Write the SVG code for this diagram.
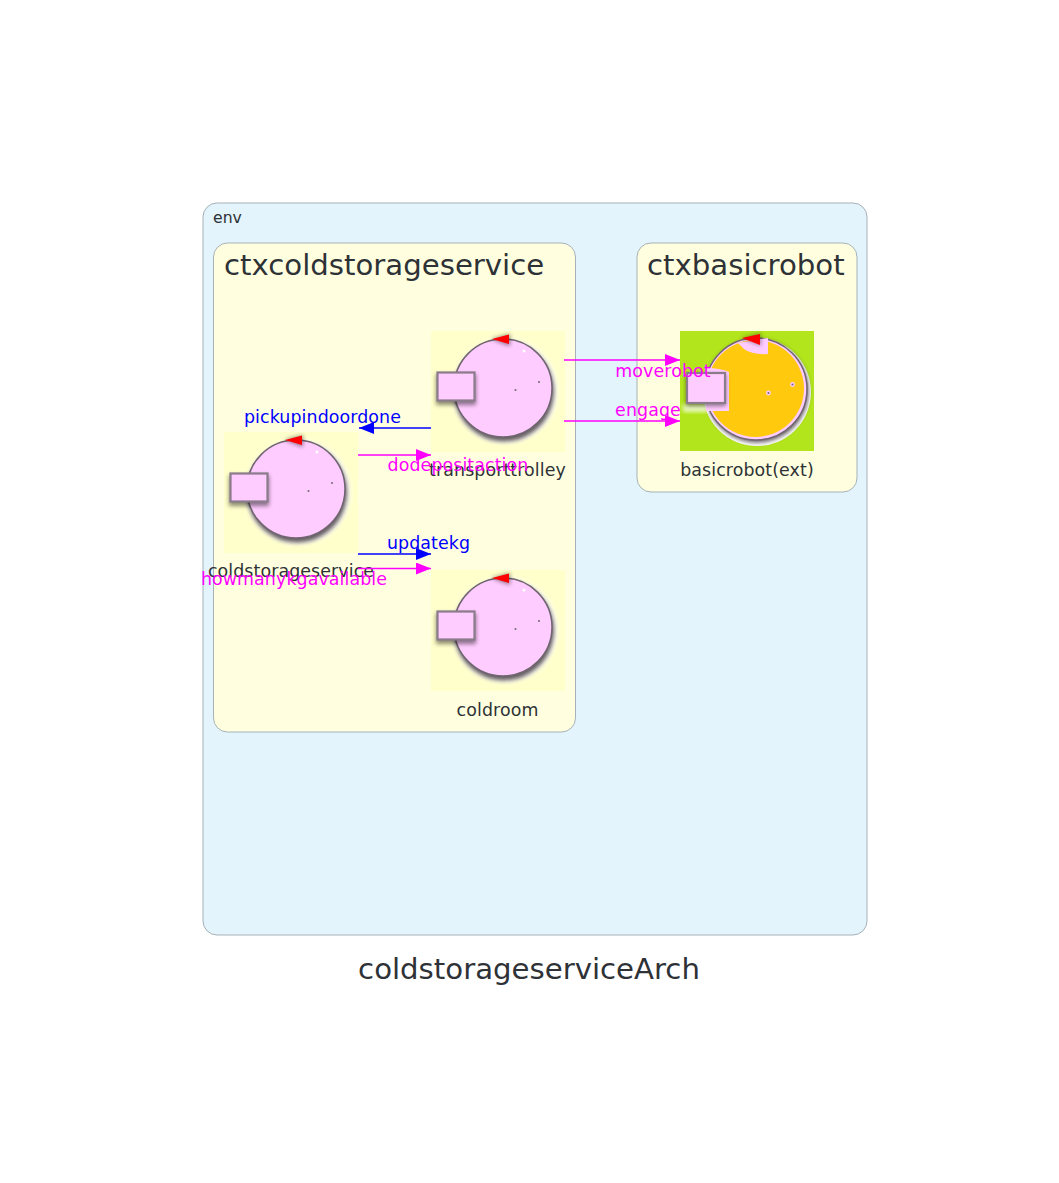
<svg xmlns="http://www.w3.org/2000/svg" xmlns:xlink="http://www.w3.org/1999/xlink" width="1059" height="1183" viewBox="0 0 1059 1183">
<style>
text{font-family:"DejaVu Sans",sans-serif}
.cluster{stroke:#a6b1b8;stroke-width:1}
.t{fill:#2e3236}
.big{font-size:29.2px;fill:#2e3236}
.lbl{font-size:17.4px;text-anchor:middle;letter-spacing:.1px}
.m{fill:#ff00ff}.b{fill:#0000ff}
.lm{stroke:#ff00ff;stroke-width:1.4;fill:none;marker-end:url(#am)}
.lb{stroke:#0000ff;stroke-width:1.4;fill:none;marker-end:url(#ab)}
</style>
<defs>
<marker id="am" markerUnits="userSpaceOnUse" markerWidth="16" markerHeight="12" refX="15" refY="6" orient="auto"><path d="M0 0L15 6L0 12Z" fill="#ff00ff"/></marker>
<marker id="ab" markerUnits="userSpaceOnUse" markerWidth="16" markerHeight="12" refX="15" refY="6" orient="auto"><path d="M0 0L15 6L0 12Z" fill="#0000ff"/></marker>
<filter id="sh" x="-25%" y="-25%" width="150%" height="150%"><feGaussianBlur stdDeviation="2"/></filter>
<filter id="s" x="-10%" y="-10%" width="120%" height="120%"><feGaussianBlur stdDeviation=".6"/></filter>
<g id="robot">
<circle cx="74" cy="60" r="52" fill="#ffffff" filter="url(#sh)"/>
<circle cx="73" cy="60.500" r="50" fill="#4a3f45" opacity=".85" filter="url(#sh)"/>
<circle cx="72" cy="57" r="49" fill="#ffccff" stroke="#6f6570" stroke-width="1.500" filter="url(#s)"/>
<rect x="5" y="43" width="40" height="31" fill="#000" opacity=".45" filter="url(#sh)"/>
<rect x="6.500" y="41.500" width="37" height="28" fill="#ffccff" stroke="#8b7b8b" stroke-width="2.200" filter="url(#s)"/>
<path d="M60 8L79 3V15Z" fill="#000" opacity=".45" filter="url(#sh)"/>
<path d="M61 8L78 3.500V13Z" fill="#ff0000" filter="url(#s)"/>
<circle cx="84.500" cy="59" r="1.100" fill="#7a6f7a"/>
<circle cx="108" cy="51" r="1.100" fill="#7a6f7a"/>
<circle cx="93" cy="20" r="1.500" fill="#fff"/>
</g>
</defs>
<rect width="1059" height="1183" fill="#fff"/>
<g id="env">
<rect class="cluster" x="203" y="203" width="664" height="732" rx="14" fill="#e3f4fc"/>
<text class="t" x="213" y="223" font-size="15.7">env</text>
</g>
<g id="ctxcoldstorageservice">
<rect class="cluster" x="213.500" y="243" width="362" height="489" rx="14" fill="#ffffe0"/>
<text class="big" x="224" y="275">ctxcoldstorageservice</text>
</g>
<g id="ctxbasicrobot">
<rect class="cluster" x="637" y="243" width="220" height="249" rx="14" fill="#ffffe0"/>
<text class="big" x="647" y="275">ctxbasicrobot</text>
</g>
<g id="transporttrolley">
<rect x="431" y="331" width="134" height="121" fill="#ffffcc"/>
<use xlink:href="#robot" href="#robot" x="431" y="331"/>
<text class="lbl t" x="497.500" y="476">transporttrolley</text>
</g>
<g id="coldstorageservice">
<rect x="224" y="432" width="134" height="121" fill="#ffffcc"/>
<use xlink:href="#robot" href="#robot" x="224" y="432"/>
<text class="lbl t" x="291" y="577">coldstorageservice</text>
</g>
<g id="coldroom">
<rect x="431" y="570" width="134" height="121" fill="#ffffcc"/>
<use xlink:href="#robot" href="#robot" x="431" y="570"/>
<text class="lbl t" x="497.500" y="716">coldroom</text>
</g>
<g id="basicrobot">
<rect x="680" y="331" width="134" height="120" fill="#b2e51c"/>
<circle cx="757" cy="392" r="54" fill="#fff" filter="url(#s)"/>
<circle cx="757" cy="391" r="51.500" fill="#4a3f45" opacity=".85" filter="url(#sh)"/>
<circle cx="756" cy="389" r="51" fill="#ffccff" stroke="#6f6570" stroke-width="1.500" filter="url(#s)"/>
<circle cx="755.500" cy="388.500" r="48.500" fill="#ffc90e"/>
<path d="M738 343L768 338V354Q752 355 744 349Z" fill="#ffccff" filter="url(#s)"/>
<path d="M683 404H708V412H683Z" fill="#fff" opacity=".75" filter="url(#sh)"/>
<path d="M706 368Q720 368 729 372V411H706Z" fill="#ffccff" filter="url(#s)"/>
<rect x="686" y="374" width="40" height="32" fill="#000" opacity=".45" filter="url(#sh)"/>
<rect x="687" y="373" width="38" height="30" fill="#ffccff" stroke="#8b7b8b" stroke-width="2.200" filter="url(#s)"/>
<path d="M741 338L761 333V346Z" fill="#000" opacity=".35" filter="url(#sh)"/>
<path d="M742 338L760 334V345Z" fill="#ff0000" filter="url(#s)"/>
<circle cx="768.500" cy="393" r="2.400" fill="#ffccff"/><circle cx="768.500" cy="393" r="1.100" fill="#7a6f7a"/>
<circle cx="792.500" cy="384.500" r="2.400" fill="#ffccff"/><circle cx="792.500" cy="384.500" r="1.100" fill="#7a6f7a"/>
<text class="lbl t" x="747" y="476">basicrobot(ext)</text>
</g>
<g id="connectors">
<path class="lm" d="M564 360H680"/>
<path class="lm" d="M564 421H680"/>
<path class="lb" d="M431 428H359"/>
<path class="lm" d="M358 455H431"/>
<path class="lb" d="M358 554H431"/>
<path class="lm" d="M358 568.500H431"/>
<text class="lbl m" x="663" y="377">moverobot</text>
<text class="lbl m" x="648" y="416">engage</text>
<text class="lbl b" x="322.500" y="423">pickupindoordone</text>
<text class="lbl m" x="458" y="471">dodepositaction</text>
<text class="lbl b" x="428.500" y="549">updatekg</text>
<text class="lbl m" x="294" y="585">howmanykgavailable</text>
</g>
<text id="title" class="big" x="529" y="979" text-anchor="middle">coldstorageserviceArch</text>
</svg>
